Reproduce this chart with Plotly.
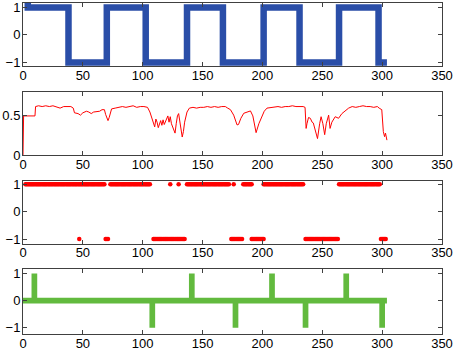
import plotly.graph_objects as go

# ---------------- data ----------------
# Panel 1: square wave (transition points, step-wise)
sq_x = [4, 4, 38, 70, 102.5, 137, 167, 201, 231, 264, 297, 304]
sq_y = [1.5, 1, -1, 1, -1, 1, -1, 1, -1, 1, -1, -1]

# Panel 2: noisy red curve
red_x = [0, 0.5, 10, 10.5, 13, 16, 19, 22, 25, 28, 31, 34, 37, 40, 42, 43, 46, 48, 50, 53, 55, 57, 59,
         62, 64, 66, 68, 69, 71, 72, 74, 77, 80, 83, 86, 89, 92, 95, 98, 101, 104, 106, 108, 109, 110,
         111, 112, 113, 114, 115, 116, 117, 118, 119, 120, 121, 122, 123, 124, 125, 126, 127, 128, 129,
         130, 131, 132, 133, 134, 135, 137, 139, 142, 145, 148, 151, 154, 157, 160, 163, 166, 169, 171,
         173.3, 176, 178.8, 180, 182, 184.4, 187, 190, 192, 194.7, 197, 199.7, 201.5, 203.8, 207, 210,
         213, 216, 219, 222, 225, 228, 231, 234, 235.6, 236.5, 237.2, 238.5, 240, 241.5, 242.5, 244.2,
         246, 247.8, 249, 250.5, 252, 253.3, 255.3, 256.5, 258, 260.8, 263.6, 266.4, 269.2, 272, 275,
         278, 281, 284, 287, 290, 293, 296, 297.5, 299.7, 301, 302, 302.8, 304]
red_y = [0.0, 0.5, 0.5, 0.62, 0.63, 0.62, 0.63, 0.62, 0.63, 0.61, 0.60, 0.62, 0.62, 0.62, 0.60, 0.54,
         0.53, 0.51, 0.54, 0.56, 0.55, 0.53, 0.55, 0.56, 0.56, 0.58, 0.58, 0.52, 0.44, 0.48, 0.59, 0.60,
         0.61, 0.62, 0.61, 0.62, 0.63, 0.61, 0.62, 0.62, 0.61, 0.55, 0.45, 0.38, 0.36, 0.46, 0.42, 0.35,
         0.40, 0.44, 0.38, 0.45, 0.39, 0.43, 0.48, 0.50, 0.42, 0.49, 0.40, 0.35, 0.30, 0.28, 0.40, 0.50,
         0.53, 0.42, 0.30, 0.23, 0.30, 0.42, 0.55, 0.60, 0.61, 0.60, 0.61, 0.61, 0.62, 0.61, 0.62, 0.61,
         0.62, 0.62, 0.60, 0.58, 0.51, 0.385, 0.39, 0.47, 0.534, 0.55, 0.564, 0.50, 0.286, 0.40, 0.49,
         0.56, 0.60, 0.61, 0.62, 0.62, 0.61, 0.62, 0.62, 0.63, 0.62, 0.62, 0.62, 0.61, 0.34, 0.40, 0.48,
         0.47, 0.42, 0.41, 0.30, 0.21, 0.40, 0.49, 0.40, 0.26, 0.40, 0.51, 0.34, 0.42, 0.49, 0.47, 0.53,
         0.57, 0.60, 0.62, 0.61, 0.62, 0.63, 0.62, 0.62, 0.61, 0.62, 0.60, 0.58, 0.30, 0.235, 0.28, 0.19,
         0.235]

# Panel 3: sign runs (start, end, value)
run_start = [2, 73, 123, 130, 137, 176, 184, 201, 264, 47, 69, 109, 174, 191, 236, 299]
run_end = [68, 106, 123, 130, 172, 176, 191, 234, 298, 47, 71, 135, 183, 201, 263, 303]
run_val = [1, 1, 1, 1, 1, 1, 1, 1, 1, -1, -1, -1, -1, -1, -1, -1]

# Panel 4: spikes on a zero baseline
base_start, base_end = 0, 304
spike_x = [9.5, 108, 141, 177.5, 208, 236, 270, 300]
spike_y = [1, -1, 1, -1, 1, -1, 1, -1]

x_ticks = [0, 50, 100, 150, 200, 250, 300, 350]

# ---------------- build ----------------
BLUE = "rgb(42,78,168)"
RED = "rgb(255,0,0)"
GREEN = "rgb(98,186,62)"
AX = "#404040"

fig = go.Figure()

fig.add_trace(go.Scatter(x=sq_x, y=sq_y, mode="lines", line=dict(color=BLUE, width=6.5, shape="hv"),
                         xaxis="x", yaxis="y", showlegend=False))
fig.add_trace(go.Scatter(x=red_x, y=red_y, mode="lines", line=dict(color=RED, width=1),
                         xaxis="x2", yaxis="y2", showlegend=False))

sx, sy = [], []
for s, e, v in zip(run_start, run_end, run_val):
    for k in range(s, e + 1):
        sx.append(k)
        sy.append(v)
fig.add_trace(go.Scatter(x=sx, y=sy, mode="markers", marker=dict(color=RED, size=4.5, line=dict(width=0)),
                         xaxis="x3", yaxis="y3", showlegend=False))

gx, gy = [base_start], [0]
for xv, yv in zip(spike_x, spike_y):
    gx += [xv, xv, xv]
    gy += [0, yv, 0]
gx.append(base_end)
gy.append(0)
fig.add_trace(go.Scatter(x=gx, y=gy, mode="lines", line=dict(color=GREEN, width=5.7),
                         xaxis="x4", yaxis="y4", showlegend=False))

domains = [[0.8097, 1.0], [0.5408, 0.7320], [0.2728, 0.4631], [0.0, 0.1964]]
yranges = [[-1.13, 1.16], [0, 0.81], [-1.17, 1.13], [-1.23, 1.17]]
yticks = [[-1, 0, 1], [0, 0.5], [-1, 0, 1], [-1, 0, 1]]

common_axis = dict(showgrid=False, zeroline=False, showline=True, linecolor=AX, linewidth=1,
                   mirror="ticks", ticks="inside", ticklen=4, tickcolor=AX, automargin=False,
                   ticklabeloverflow="allow",
                   tickfont=dict(family="Liberation Sans, Arial", size=13, color="black"))

layout = dict(template="none", width=454, height=350, margin=dict(l=23, r=12, t=3, b=16),
              paper_bgcolor="white", plot_bgcolor="white", showlegend=False)
for i in range(4):
    sfx = "" if i == 0 else str(i + 1)
    layout["xaxis" + sfx] = dict(common_axis, domain=[0, 1], range=[0, 350], tickvals=x_ticks,
                                 anchor="y" + sfx, ticklabelstandoff=-3)
    layout["yaxis" + sfx] = dict(common_axis, domain=domains[i], range=yranges[i], tickvals=yticks[i],
                                 anchor="x" + sfx, ticklabelstandoff=-1)
fig.update_layout(**layout)

fig.write_html("out.html", config={"displayModeBar": False},
               post_script="document.body.style.margin='0';document.body.style.padding='0';")
